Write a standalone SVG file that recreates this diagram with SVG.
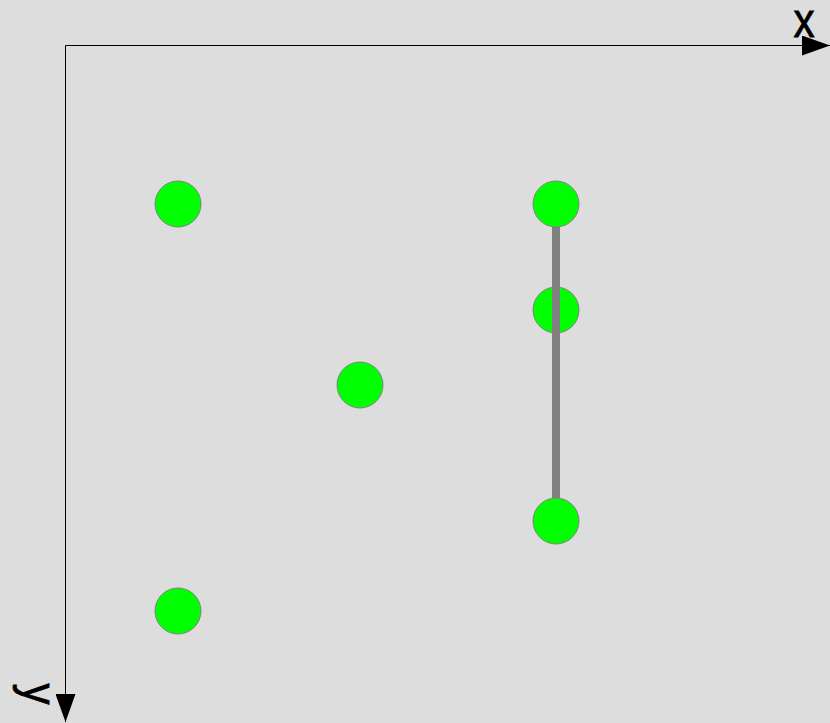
<svg xmlns="http://www.w3.org/2000/svg" width="830" height="723" viewBox="0 0 830 723">
<style>
.node{fill:#00ff00;stroke:#808080;stroke-width:1}
.axis{stroke:#000;stroke-width:1;fill:none}
.lbl{font-family:"Liberation Sans",Arial,sans-serif;font-size:48px;fill:#000;stroke:#000;stroke-width:0.8}
</style>
<defs>
<marker id="ah" markerWidth="28" markerHeight="20" refX="28" refY="10" orient="auto" markerUnits="userSpaceOnUse">
<path d="M0,0 L28,10 L0,20 Z" fill="#000"/>
</marker>
</defs>
<rect width="830" height="723" fill="#dddddd"/>
<g id="axes">
<path class="axis" d="M65.5,45.5 H830" marker-end="url(#ah)"/>
<path class="axis" d="M65.5,45.5 V722" marker-end="url(#ah)"/>
<text class="lbl" transform="translate(804,37) scale(0.88,1)" text-anchor="middle">x</text>
<text class="lbl" transform="translate(23,694) rotate(90) scale(0.88,1)" text-anchor="middle">y</text>
</g>
<g id="n1"><circle class="node" cx="178" cy="204" r="23"/></g>
<g id="n2"><circle class="node" cx="556" cy="204" r="23"/></g>
<g id="n3"><circle class="node" cx="556" cy="310" r="23"/></g>
<g id="n4"><circle class="node" cx="360" cy="385" r="23"/></g>
<g id="n6"><circle class="node" cx="178" cy="611" r="23"/></g>
<g id="n5"><circle class="node" cx="556" cy="521" r="23"/></g>
<g id="connectors">
<line x1="556" y1="227" x2="556" y2="498" stroke="#808080" stroke-width="8"/>
</g>
</svg>
